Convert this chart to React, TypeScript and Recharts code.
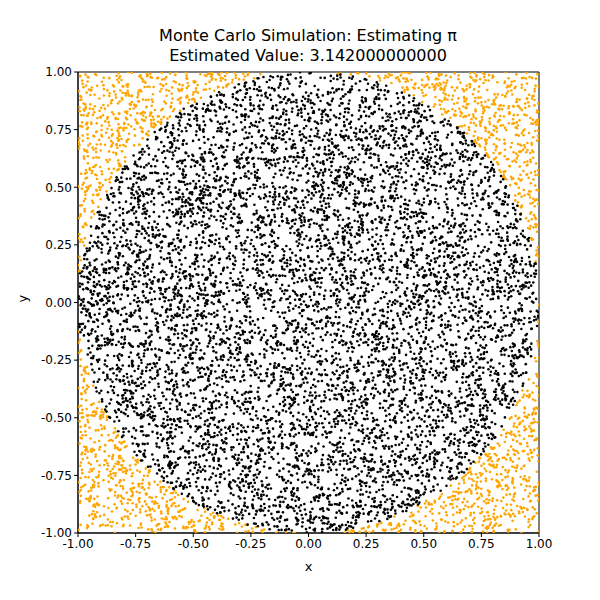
import React from 'react';
import { ScatterChart, Scatter, XAxis, YAxis, ReferenceArea } from 'recharts';

// The reference plots 10,000 uniform random samples. You can't read single points
// off the image, so a seeded generator rebuilds a sample of the same size.
const sampleCount = 10000;
const estimatedPi = 3.142;
const ticks = [-1, -0.75, -0.5, -0.25, 0, 0.25, 0.5, 0.75, 1];

let seed = 12345;
const rand = () => {
  seed = (seed * 1664525 + 1013904223) % 4294967296;
  return seed / 4294967296;
};

const inside: { x: number; y: number }[] = [];
const outside: { x: number; y: number }[] = [];
for (let i = 0; i < sampleCount; i++) {
  const x = rand() * 2 - 1;
  const y = rand() * 2 - 1;
  (x * x + y * y <= 1 ? inside : outside).push({ x, y });
}

const dot = (color: string) => (p: any) => <circle cx={p.cx} cy={p.cy} r={1.3} fill={color} />;
const fmt = (v: number) => v.toFixed(2);
const tickStyle = { fill: '#000', fontSize: 12 };

export default function App() {
  return (
    <div style={{ position: 'absolute', left: 0, top: 0, width: 600, height: 600, background: '#fff', fontFamily: 'DejaVu Sans' }}>
      <div style={{ position: 'absolute', top: 26, width: 616, textAlign: 'center', fontSize: 16, lineHeight: '20px', color: '#000' }}>
        Monte Carlo Simulation: Estimating π<br />Estimated Value: {estimatedPi.toFixed(12)}
      </div>
      <ScatterChart width={600} height={600} margin={{ top: 72, right: 61, left: 16, bottom: 37 }}>
        <XAxis type="number" dataKey="x" domain={[-1, 1]} ticks={ticks} tickFormatter={fmt} allowDataOverflow
          tick={tickStyle} stroke="#000" tickSize={4} height={30}
          label={{ value: 'x', position: 'insideBottom', offset: -8, fill: '#000', fontSize: 13 }} />
        <YAxis type="number" dataKey="y" domain={[-1, 1]} ticks={ticks} tickFormatter={fmt} allowDataOverflow
          tick={tickStyle} stroke="#000" tickSize={4} width={62}
          label={{ value: 'y', angle: -90, position: 'insideLeft', offset: 6, fill: '#000', fontSize: 13 }} />
        <Scatter data={outside} fill="orange" shape={dot('orange')} isAnimationActive={false} />
        <Scatter data={inside} fill="black" shape={dot('black')} isAnimationActive={false} />
        <ReferenceArea x1={-1} x2={1} y1={-1} y2={1} fill="none" stroke="#000" strokeWidth={1} fillOpacity={0} />
      </ScatterChart>
    </div>
  );
}
